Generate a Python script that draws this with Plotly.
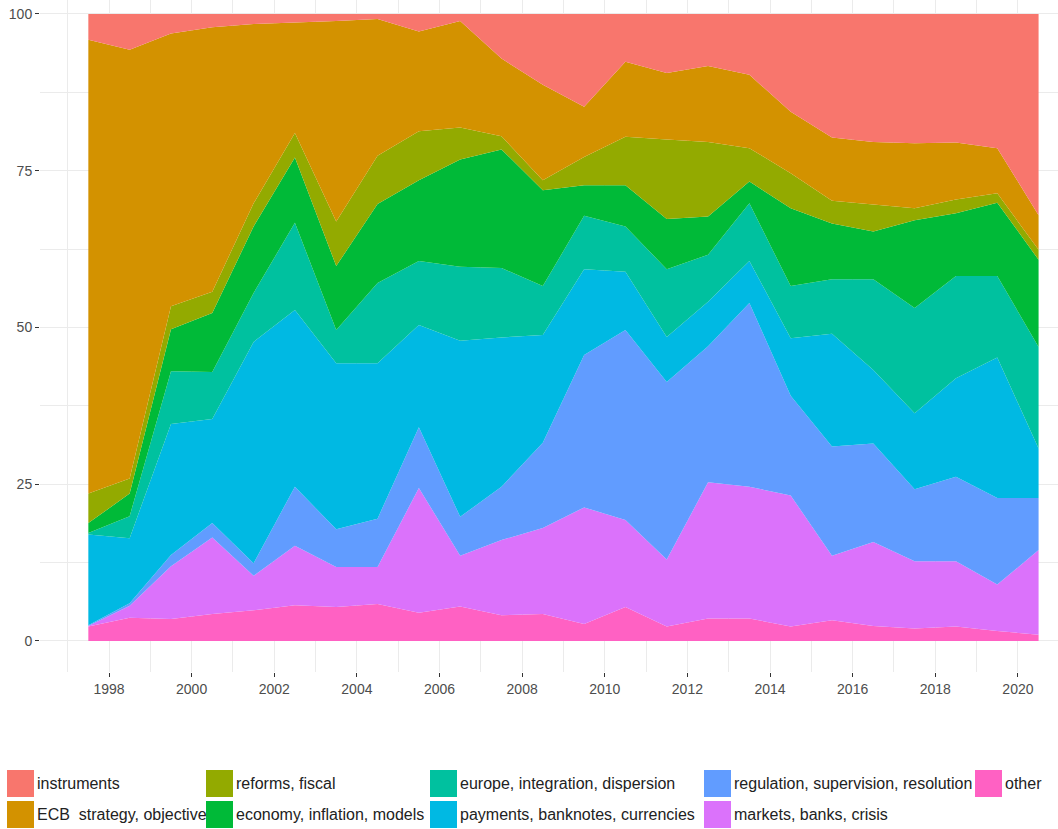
import plotly.graph_objects as go

years = [1997.5, 1998.5, 1999.5, 2000.5, 2001.5, 2002.5, 2003.5, 2004.5,
         2005.5, 2006.5, 2007.5, 2008.5, 2009.5, 2010.5, 2011.5, 2012.5,
         2013.5, 2014.5, 2015.5, 2016.5, 2017.5, 2018.5, 2019.5, 2020.5]

# shares (percent) per topic, bottom of stack first
other = [2.3, 3.7, 3.5, 4.3, 4.9, 5.7, 5.4, 5.9, 4.5, 5.5, 4.1, 4.3,
         2.7, 5.4, 2.3, 3.6, 3.6, 2.3, 3.3, 2.4, 2.0, 2.3, 1.6, 1.0]
markets = [0.1, 1.9, 8.4, 12.2, 5.5, 9.5, 6.4, 5.9, 19.9, 8.1, 12.0, 13.7,
           18.6, 13.9, 10.7, 21.7, 21.0, 20.9, 10.3, 13.4, 10.7, 10.4, 7.4, 13.5]
regulation = [0.1, 0.4, 1.8, 2.3, 2.0, 9.4, 6.0, 7.7, 9.7, 6.2, 8.5, 13.6,
              24.3, 30.3, 28.3, 21.7, 29.3, 15.9, 17.4, 15.7, 11.5, 13.5, 13.8, 8.3]
payments = [14.5, 10.4, 20.9, 16.6, 35.3, 28.2, 26.5, 24.8, 16.3, 28.1, 23.8, 17.2,
            13.7, 9.3, 7.2, 7.1, 6.7, 9.2, 18.0, 11.7, 12.1, 15.7, 22.4, 7.9]
europe = [0.2, 3.5, 8.4, 7.5, 7.8, 13.9, 5.3, 12.8, 10.2, 11.8, 11.1, 7.8,
          8.5, 7.2, 10.8, 7.5, 9.2, 8.3, 8.7, 14.5, 16.8, 16.3, 13.0, 16.2]
economy = [1.6, 3.6, 6.7, 9.4, 10.6, 10.4, 10.2, 12.6, 12.9, 17.1, 18.9, 15.3,
           4.9, 6.6, 8.0, 6.1, 3.5, 12.4, 8.9, 7.6, 14.0, 10.0, 11.7, 13.9]
reforms = [4.7, 2.4, 3.7, 3.4, 3.7, 3.9, 7.1, 7.7, 7.8, 5.1, 2.1, 1.6,
           4.5, 7.7, 12.7, 11.9, 5.3, 5.6, 3.6, 4.3, 1.9, 2.2, 1.5, 1.6]
ecb = [72.4, 68.4, 43.5, 42.2, 28.6, 17.6, 32.0, 21.8, 15.9, 17.0, 12.4, 15.2,
       8.0, 12.0, 10.6, 12.1, 11.7, 9.8, 10.1, 10.0, 10.4, 9.1, 7.2, 5.5]
instruments = [4.1, 5.7, 3.1, 2.1, 1.6, 1.4, 1.1, 0.8, 2.8, 1.1, 7.1, 11.3,
               14.8, 7.6, 9.4, 8.3, 9.7, 15.6, 19.7, 20.4, 20.6, 20.5, 21.4, 32.1]

labels = ["other", "markets, banks, crisis", "regulation, supervision, resolution",
          "payments, banknotes, currencies", "europe, integration, dispersion",
          "economy, inflation, models", "reforms, fiscal",
          "ECB\u00a0\u00a0strategy, objective", "instruments"]
series = [other, markets, regulation, payments, europe, economy, reforms, ecb, instruments]
colors = ["#FF61C3", "#DB72FB", "#619CFF", "#00B9E3", "#00C19F",
          "#00BA38", "#93AA00", "#D39200", "#F8766D"]

x_ticks = [1998, 2000, 2002, 2004, 2006, 2008, 2010, 2012, 2014, 2016, 2018, 2020]
y_ticks = [0, 25, 50, 75, 100]

fig = go.Figure()
for lab, vals, col in zip(labels, series, colors):
    fig.add_trace(go.Scatter(
        x=years, y=vals, name=lab, mode="lines", stackgroup="one",
        line=dict(width=0, color=col), fillcolor=col, showlegend=False,
        hoverinfo="x+y+name"))

W, H = 1058, 829
L, R, T, B = 40, 0, 0, 157
pw, ph = W - L - R, H - T - B


def px_x(p):
    return (p - L) / pw


def px_y(p):
    return (H - B - p) / ph


# custom legend (ggplot column-major order)
legend_cols = [
    (7, ["instruments", "ECB\u00a0\u00a0strategy, objective"]),
    (206, ["reforms, fiscal", "economy, inflation, models"]),
    (430, ["europe, integration, dispersion", "payments, banknotes, currencies"]),
    (704, ["regulation, supervision, resolution", "markets, banks, crisis"]),
    (975, ["other"]),
]
row_tops = [770, 801]
key = 27
shapes = []
annotations = []
for x0, items in legend_cols:
    for r, lab in enumerate(items):
        col = colors[labels.index(lab)]
        y0 = row_tops[r]
        shapes.append(dict(type="rect", xref="paper", yref="paper",
                           x0=px_x(x0), x1=px_x(x0 + key),
                           y0=px_y(y0), y1=px_y(y0 + key),
                           fillcolor=col, line=dict(width=0)))
        annotations.append(dict(xref="paper", yref="paper",
                                x=px_x(x0 + key + 1), y=px_y(y0 + key / 2),
                                xanchor="left", yanchor="middle", showarrow=False,
                                text=lab, font=dict(size=16, color="#222222",
                                                    family="Arial, Liberation Sans")))

fig.update_layout(
    width=W, height=H,
    margin=dict(l=L, r=R, t=T, b=B, pad=0),
    paper_bgcolor="white", plot_bgcolor="white",
    font=dict(family="Arial, Liberation Sans", size=14, color="#4D4D4D"),
    shapes=shapes, annotations=annotations,
    hovermode="closest",
    xaxis=dict(range=[1996.33, 2020.97], tickvals=x_ticks,
               ticktext=[str(v) for v in x_ticks],
               showgrid=True, gridcolor="#EBEBEB", gridwidth=1,
               minor=dict(dtick=1, tick0=1997, showgrid=True, gridcolor="#EBEBEB", gridwidth=1),
               zeroline=False, showline=False,
               ticks="outside", ticklen=4, tickcolor="#333333", tickwidth=1,
               tickfont=dict(size=14, color="#4D4D4D")),
    yaxis=dict(range=[-4.95, 102.23], tickvals=y_ticks,
               ticktext=[str(v) for v in y_ticks],
               showgrid=True, gridcolor="#EBEBEB", gridwidth=1,
               minor=dict(tickvals=[12.5, 37.5, 62.5, 87.5], showgrid=True,
                          gridcolor="#EBEBEB", gridwidth=1),
               zeroline=False, showline=False,
               ticks="outside", ticklen=4, tickcolor="#333333", tickwidth=1,
               tickfont=dict(size=14, color="#4D4D4D")),
)

fig.write_html("out.html", config={"displayModeBar": False},
               post_script="document.body.style.margin='0';document.body.style.overflow='hidden';")
